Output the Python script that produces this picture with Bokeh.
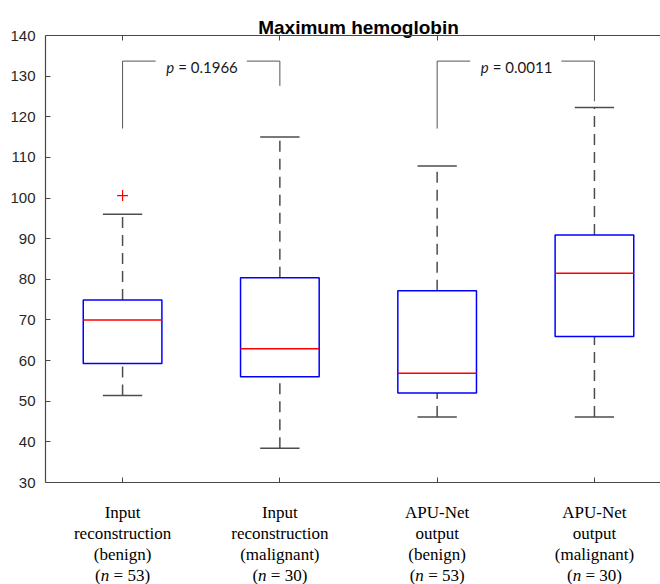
from bokeh.plotting import figure
from bokeh.models import Range1d, FixedTicker, LinearAxis
from bokeh.models import ColumnDataSource
from bokeh.core.properties import value
from bokeh.embed import file_html
from bokeh.resources import INLINE

# Groups on the x axis
positions = [1, 2, 3, 4]
group_lines = [
    ["Input", "reconstruction", "(benign)"],
    ["Input", "reconstruction", "(malignant)"],
    ["APU-Net", "output", "(benign)"],
    ["APU-Net", "output", "(malignant)"],
]
group_n = [53, 30, 53, 30]

# Box statistics per group
whisker_low = [51.4, 38.4, 46.1, 46.1]
q1 = [59.3, 56.0, 52.0, 65.9]
median = [70.0, 62.9, 56.9, 81.5]
q3 = [74.9, 80.4, 77.2, 90.9]
whisker_high = [96.0, 115.0, 107.9, 122.3]

# Outliers
outlier_pos = [1]
outlier_val = [100.6]

# Significance brackets
comparisons = [(1, 2), (3, 4)]
p_values = ["0.1966", "0.0011"]
bracket_top = [133.7, 133.7]
bracket_left_foot = [117.1, 117.1]
bracket_right_foot = [127.6, 123.8]

y_ticks = list(range(30, 141, 10))
y_lo, y_hi = 30, 140
title_text = "Maximum hemoglobin"

# ---- layout (pixels) ----
W, H = 660, 584
LEFT = 45            # space for the y tick labels
AX_TOP, AX_BOTTOM = 35, 482   # pixel rows of the y limits
PX = (AX_BOTTOM - AX_TOP) / (y_hi - y_lo)   # pixels per data unit

FRAME = "#474747"
WHISKER = "#4d4d4d"
BOX_HALF = 0.25
CAP_HALF = 0.125

# the plotting frame spans the full canvas height so that the title and
# the category captions can be drawn as text glyphs; axes are pinned to
# the y limits with fixed_location / bounds
p = figure(
    width=W, height=H,
    x_range=Range1d(0.51, 4.42),
    y_range=Range1d(y_lo - (H - AX_BOTTOM) / PX, y_hi + AX_TOP / PX),
    output_backend="svg", toolbar_location=None,
    min_border_left=LEFT, min_border_right=0,
    min_border_top=0, min_border_bottom=0,
    x_axis_location=None, y_axis_location=None,
)
p.outline_line_color = None
p.background_fill_color = "white"
p.border_fill_color = "white"
p.xgrid.visible = False
p.ygrid.visible = False

blank = {x: "" for x in positions}


def frame_axis(loc):
    return LinearAxis(ticker=FixedTicker(ticks=positions), major_label_overrides=blank,
                      fixed_location=loc, major_tick_in=5, major_tick_out=0,
                      minor_tick_in=0, minor_tick_out=0, axis_line_color=FRAME,
                      major_tick_line_color=FRAME, axis_line_width=1.2,
                      major_label_standoff=0)


p.add_layout(frame_axis(y_lo), "below")
p.add_layout(frame_axis(y_hi), "above")

ya = LinearAxis(ticker=FixedTicker(ticks=y_ticks), bounds=(y_lo, y_hi),
                major_tick_in=5, major_tick_out=0, minor_tick_in=0, minor_tick_out=0,
                axis_line_color=FRAME, major_tick_line_color=FRAME, axis_line_width=1.2,
                major_label_standoff=10, major_label_text_font="Liberation Sans",
                major_label_text_font_size="15px", major_label_text_color="#262626")
p.add_layout(ya, "left")

box = ColumnDataSource(dict(
    x=positions,
    left=[x - BOX_HALF for x in positions],
    right=[x + BOX_HALF for x in positions],
    cap_l=[x - CAP_HALF for x in positions],
    cap_r=[x + CAP_HALF for x in positions],
    lo=whisker_low, q1=q1, med=median, q3=q3, hi=whisker_high,
))

# whiskers (dashed) and caps
p.segment(x0="x", x1="x", y0="q3", y1="hi", source=box,
          line_color=WHISKER, line_width=1.5, line_dash="11 7")
p.segment(x0="x", x1="x", y0="lo", y1="q1", source=box,
          line_color=WHISKER, line_width=1.5, line_dash="11 7")
p.segment(x0="cap_l", x1="cap_r", y0="hi", y1="hi", source=box,
          line_color=WHISKER, line_width=1.5)
p.segment(x0="cap_l", x1="cap_r", y0="lo", y1="lo", source=box,
          line_color=WHISKER, line_width=1.5)

# boxes and medians
p.quad(left="left", right="right", bottom="q1", top="q3", source=box,
       fill_color=None, line_color="#0000ff", line_width=1.5)
p.segment(x0="left", x1="right", y0="med", y1="med", source=box,
          line_color="#ff0000", line_width=1.5)

p.scatter(x=outlier_pos, y=outlier_val, marker="cross", size=11,
          line_color="#ff0000", line_width=1.2)

# significance brackets with a gap for the p-value text
GAP = 0.29
for (a, b), pv, ytop, lf, rf in zip(comparisons, p_values, bracket_top,
                                    bracket_left_foot, bracket_right_foot):
    mid = (a + b) / 2
    p.segment(x0=[a, a, mid + GAP, b], x1=[a, mid - GAP, b, b],
              y0=[lf, ytop, ytop, ytop], y1=[ytop, ytop, ytop, rf],
              line_color="#555555", line_width=1)
    base = ytop - 5.5 / PX
    p.text(x=[mid], y=[base], text=["p"], x_offset=-27,
           text_font=value("Lato"), text_font_style="italic",
           text_font_size="15px", text_align="right",
           text_baseline="alphabetic", text_color="#1a1a1a")
    p.text(x=[mid], y=[base], text=["= " + pv], x_offset=-23,
           text_font=value("Lato"), text_font_size="15px", text_align="left",
           text_baseline="alphabetic", text_color="#1a1a1a")

# title centred over the groups
p.text(x=[sum(positions) / len(positions)], y=[y_hi + 8.5 / PX], text=[title_text],
       text_font=value("Liberation Sans"), text_font_style="bold",
       text_font_size="19px", text_align="center", text_baseline="alphabetic",
       text_color="black")

# category captions below the axis
LINE_GAP = 21.2
FIRST = 29.5
SERIF = value("Liberation Serif")
for k in range(3):
    p.text(x=positions, y=[y_lo - (FIRST + k * LINE_GAP) / PX] * len(positions),
           text=[lines[k] for lines in group_lines],
           text_font=SERIF, text_font_size="17px", text_align="center",
           text_baseline="alphabetic", text_color="black")

yn = [y_lo - (FIRST + 3 * LINE_GAP) / PX] * len(positions)
p.text(x=positions, y=yn, text=["("] * len(positions), x_offset=-21.8,
       text_font=SERIF, text_font_size="17px", text_align="right",
       text_baseline="alphabetic", text_color="black")
p.text(x=positions, y=yn, text=["n"] * len(positions), x_offset=-21.8,
       text_font=SERIF, text_font_style="italic", text_font_size="17px",
       text_align="left", text_baseline="alphabetic", text_color="black")
p.text(x=positions, y=yn, text=[f"= {n})" for n in group_n], x_offset=-9.0,
       text_font=SERIF, text_font_size="17px", text_align="left",
       text_baseline="alphabetic", text_color="black")

open("out.html", "w").write(file_html(p, INLINE))
